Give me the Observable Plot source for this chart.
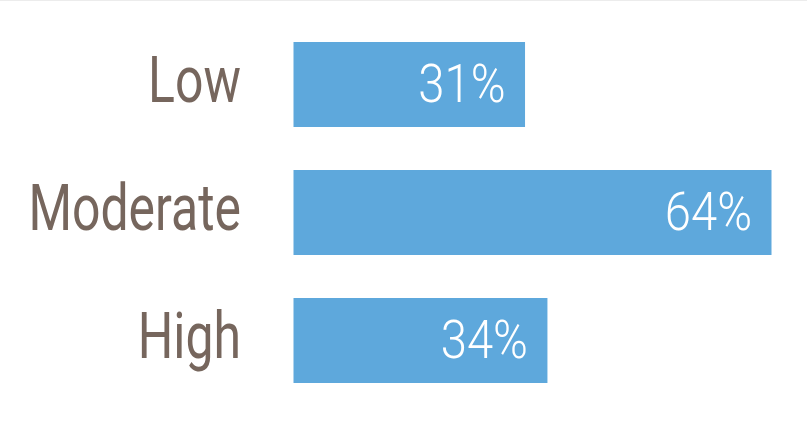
<!DOCTYPE html>
<html>
<head>
<meta charset="utf-8">
<script src="https://cdn.jsdelivr.net/npm/d3@7"></script>
<script src="https://cdn.jsdelivr.net/npm/@observablehq/plot@0.6"></script>
<style>
  html, body { margin: 0; padding: 0; background: #fff; }
  #chart svg { display: block; border-top: 1px solid #ececec; }
</style>
</head>
<body>
<div id="chart"></div>
<script>
const categories = ["Low", "Moderate", "High"];
const values = [31, 64, 34];
const valueLabels = ["31%", "64%", "34%"];

const data = categories.map((c, i) => ({category: c, value: values[i], label: valueLabels[i]}));
const font = "Roboto, 'Noto Sans', sans-serif";

const chart = Plot.plot({
  width: 807,
  height: 422,
  marginLeft: 293.5,
  marginRight: 35.5,
  marginTop: 19.4,
  marginBottom: 18,
  style: {fontFamily: font, background: "#fff"},
  x: {domain: [0, 64], axis: null},
  y: {domain: categories, axis: null, paddingInner: 0.333, paddingOuter: 0.1665},
  marks: [
    Plot.barX(data, {y: "category", x: "value", fill: "#5ea8dc"}),
    Plot.text(data, {y: "category", x: () => 0, text: "category", textAnchor: "end", dx: -53, dy: -3, fontSize: 64, fill: "#76665d", className: "cat-label"}),
    Plot.text(data, {y: "category", x: "value", text: "label", textAnchor: "end", dx: -20, fontSize: 53, fill: "#ffffff", fontWeight: 300, className: "val-label"})
  ]
});
document.getElementById("chart").appendChild(chart);

// condense the glyphs horizontally to mimic a condensed typeface
function condense(selector, factor) {
  chart.querySelectorAll(selector + " text").forEach(t => {
    const w = t.getComputedTextLength();
    t.setAttribute("textLength", (w * factor).toFixed(1));
    t.setAttribute("lengthAdjust", "spacingAndGlyphs");
  });
}
condense(".cat-label", 0.78);
condense(".val-label", 0.89);
</script>
</body>
</html>
